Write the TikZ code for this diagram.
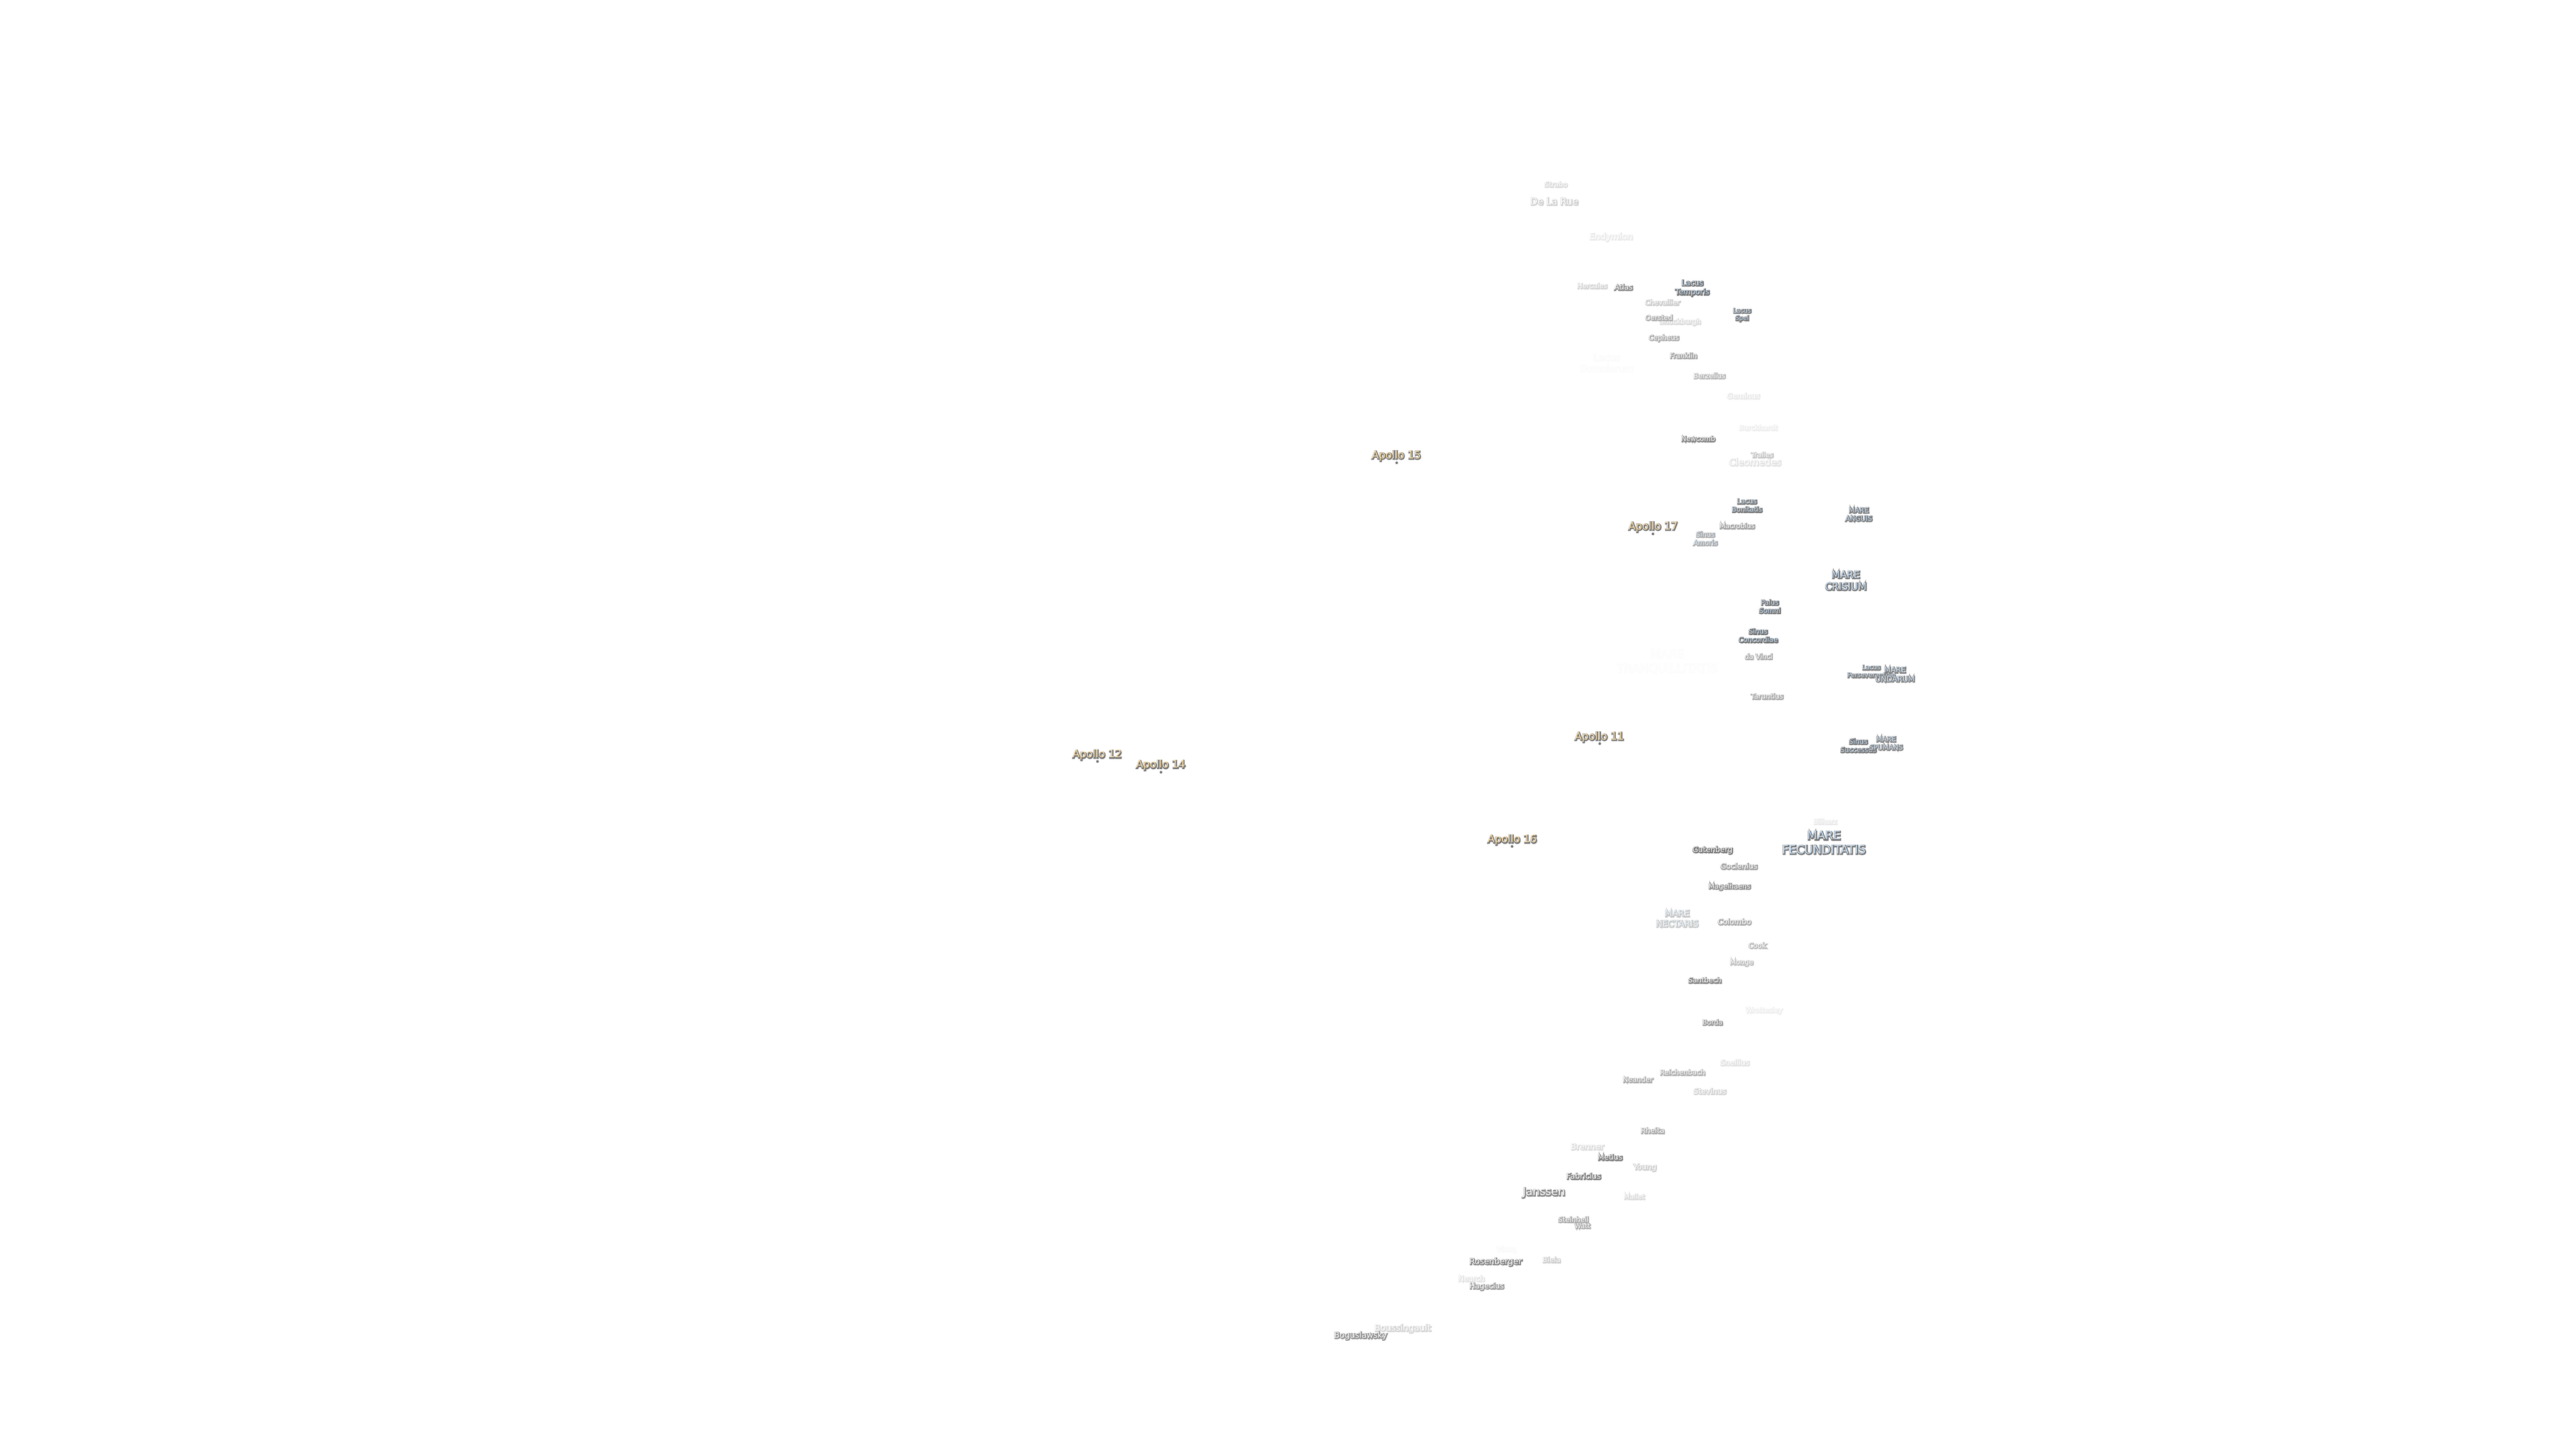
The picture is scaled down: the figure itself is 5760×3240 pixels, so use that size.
\documentclass[tikz,border=0pt]{standalone}
\usepackage{fontspec}
\setmainfont{DejaVu Sans}
\definecolor{crater}{RGB}{255,255,255}
\definecolor{mare}{RGB}{205,226,246}
\definecolor{apollo}{RGB}{253,226,176}
\newsavebox\labbox
\tikzset{lunarlabel/.style={inner sep=0pt,align=center},
  sitedot/.style={circle,inner sep=0pt,minimum size=3pt,fill=black!55}}
% #1 name, #2 x, #3 y, #4 width px, #5 strength 0..1, #6 fill colour, #7 text
\newcommand\lab[7]{%
  \pgfinterruptpicture
  \global\sbox\labbox{\fontsize{10pt}{12pt}\selectfont\begin{tabular}{@{}c@{}}#7\end{tabular}}%
  \endpgfinterruptpicture
  \pgfmathsetmacro\labfs{10*(#4-3)*0.5/\the\wd\labbox}%
  \pgfmathsetmacro\labls{1.2*\labfs}%
  \pgfmathsetmacro\labgv{1-0.55*#5}%
  \pgfmathsetmacro\labpc{100*#5}%
  \definecolor{labunder}{gray}{\labgv}%
  \colorlet{labtop}{#6!\labpc!white}%
  \node[lunarlabel,text=labunder,font=\fontsize{\labfs pt}{\labls pt}\selectfont] at (#2+1,#3+1)
    {\special{pdf:code 2 Tr 1.7 w \labgv\space G}#7\special{pdf:code 0 Tr}};
  \node[lunarlabel,text=labtop,font=\fontsize{\labfs pt}{\labls pt}\selectfont] (#1) at (#2,#3) {#7};
}
\begin{document}
\begin{tikzpicture}[x=0.5pt,y=-0.5pt]
\useasboundingbox (0,0) rectangle (5760,3240);
\lab{strabo}{3479}{412}{54}{.25}{crater}{Strabo}
\lab{delarue}{3475}{450}{110}{.35}{crater}{De La Rue}
\lab{endymion}{3602}{530}{100}{.15}{crater}{Endymion}
\lab{hercules}{3560}{639}{70}{.3}{crater}{Hercules}
\lab{atlas}{3630}{642}{44}{.8}{crater}{Atlas}
\lab{ltemporis}{3784}{644}{79}{1}{mare}{Lacus\\Temporis}
\lab{chevallier}{3717}{676}{81}{.35}{crater}{Chevallier}
\lab{shuckburgh}{3757}{720}{95}{.25}{crater}{Shuckburgh}
\lab{oersted}{3709}{710}{64}{.6}{crater}{Oersted}
\lab{lspei}{3895}{704}{43}{.95}{mare}{Lacus\\Spei}
\lab{cepheus}{3720}{756}{71}{.6}{crater}{Cepheus}
\lab{franklin}{3764}{795}{64}{.65}{crater}{Franklin}
\lab{lsomniorum}{3592}{811}{122}{.03}{mare}{Lacus\\Somniorum}
\lab{berzelius}{3822}{840}{74}{.5}{crater}{Berzelius}
\lab{geminus}{3898}{885}{77}{.15}{crater}{Geminus}
\lab{burckhardt}{3931}{956}{89}{.12}{crater}{Burckhardt}
\lab{newcomb}{3797}{981}{79}{.85}{crater}{Newcomb}
\lab{cleomedes}{3924}{1033}{120}{.2}{crater}{Cleomedes}
\lab{tralles}{3940}{1017}{52}{.4}{crater}{Tralles}
\lab{lbonitatis}{3906}{1130}{71}{.95}{mare}{Lacus\\Bonitatis}
\lab{manguis}{4156}{1150}{63}{.95}{mare}{MARE\\ANGUIS}
\lab{a17}{3696}{1178}{113}{1}{apollo}{Apollo 17}
\lab{macrobius}{3884}{1176}{82}{.65}{crater}{Macrobius}
\lab{samoris}{3813}{1204}{57}{.6}{mare}{Sinus\\Amoris}
\lab{mcrisium}{4127}{1298}{96}{1}{mare}{MARE\\CRISIUM}
\lab{psomni}{3957}{1356}{51}{1}{mare}{Palus\\Somni}
\lab{sconcordiae}{3931}{1421}{91}{1}{mare}{Sinus\\Concordiae}
\lab{davinci}{3932}{1468}{65}{.6}{crater}{da Vinci}
\lab{mtranq}{3727}{1479}{228}{.02}{mare}{MARE\\TRANQUILLITATIS}
\lab{taruntius}{3951}{1557}{75}{.6}{crater}{Taruntius}
\lab{lpersev}{4184}{1501}{110}{.9}{mare}{Lacus\\Perseverantiae}
\lab{mundarum}{4237}{1508}{91}{.9}{mare}{MARE\\UNDARUM}
\lab{a11}{3576}{1648}{113}{1}{apollo}{Apollo 11}
\lab{ssuccessus}{4155}{1667}{83}{1}{mare}{Sinus\\Successus}
\lab{mspumans}{4217}{1662}{78}{.85}{mare}{MARE\\SPUMANS}
\lab{bilharz}{4081}{1837}{55}{.15}{crater}{Bilharz}
\lab{mfecund}{4078}{1884}{190}{1}{mare}{MARE\\FECUNDITATIS}
\lab{gutenberg}{3829}{1901}{93}{1}{crater}{Gutenberg}
\lab{goclenius}{3888}{1937}{86}{.65}{crater}{Goclenius}
\lab{magelhaens}{3867}{1983}{97}{.8}{crater}{Magelhaens}
\lab{mnectaris}{3750}{2054}{98}{.4}{mare}{MARE\\NECTARIS}
\lab{colombo}{3878}{2061}{78}{.6}{crater}{Colombo}
\lab{cook}{3929}{2114}{43}{.5}{crater}{Cook}
\lab{monge}{3894}{2153}{55}{.45}{crater}{Monge}
\lab{santbech}{3812}{2192}{77}{.85}{crater}{Santbech}
\lab{wrottesley}{3944}{2260}{85}{.12}{crater}{Wrottesley}
\lab{borda}{3829}{2286}{48}{.75}{crater}{Borda}
\lab{snellius}{3879}{2376}{68}{.2}{crater}{Snellius}
\lab{reichenbach}{3762}{2398}{104}{.55}{crater}{Reichenbach}
\lab{neander}{3662}{2414}{70}{.6}{crater}{Neander}
\lab{stevinus}{3823}{2440}{76}{.3}{crater}{Stevinus}
\lab{rheita}{3695}{2528}{56}{.6}{crater}{Rheita}
\lab{brenner}{3549}{2564}{77}{.25}{crater}{Brenner}
\lab{metius}{3600}{2588}{58}{.9}{crater}{Metius}
\lab{young}{3678}{2611}{54}{.35}{crater}{Young}
\lab{fabricius}{3541}{2630}{80}{.9}{crater}{Fabricius}
\lab{mallet}{3654}{2676}{49}{.25}{crater}{Mallet}
\lab{janssen}{3452}{2667}{98}{.85}{crater}{Janssen}
\lab{steinheil}{3518}{2727}{71}{.6}{crater}{Steinheil}
\lab{watt}{3538}{2741}{38}{.6}{crater}{Watt}
\lab{vlacq}{3367}{2794}{46}{.04}{crater}{Vlacq}
\lab{rosenberger}{3344}{2822}{120}{.9}{crater}{Rosenberger}
\lab{biela}{3469}{2817}{43}{.35}{crater}{Biela}
\lab{nearch}{3290}{2859}{62}{.2}{crater}{Nearch}
\lab{hagecius}{3324}{2877}{80}{.7}{crater}{Hagecius}
\lab{boussingault}{3136}{2971}{129}{.3}{crater}{Boussingault}
\lab{boguslawsky}{3042}{2987}{121}{.8}{crater}{Boguslawsky}
\lab{a12}{2453}{1688}{113}{1}{apollo}{Apollo 12}
\lab{a14}{2595}{1711}{113}{1}{apollo}{Apollo 14}
\lab{a15}{3122}{1019}{113}{1}{apollo}{Apollo 15}
\lab{a16}{3381}{1878}{113}{1}{apollo}{Apollo 16}
\node[sitedot] (d12) at (2454,1703) {};
\node[sitedot] (d14) at (2596,1727) {};
\node[sitedot] (d15) at (3123,1035) {};
\node[sitedot] (d16) at (3381,1893) {};
\node[sitedot] (d17) at (3696,1194) {};
\node[sitedot] (d11) at (3577,1663) {};
\end{tikzpicture}
\end{document}
